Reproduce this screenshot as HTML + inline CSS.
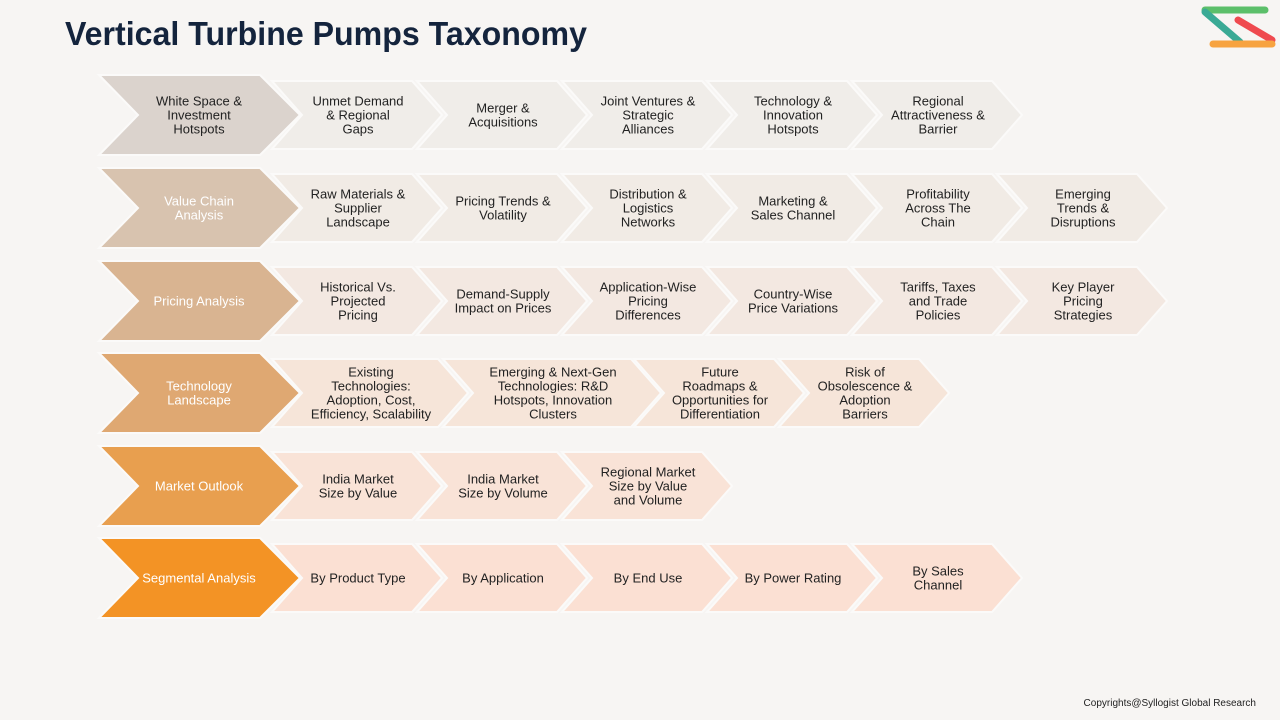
<!DOCTYPE html>
<html><head><meta charset="utf-8"><style>
html,body{margin:0;padding:0;background:#f7f5f3;}
svg{display:block;}
text{font-family:"Liberation Sans",Arial,sans-serif;}
</style></head><body>
<svg width="1280" height="720" viewBox="0 0 1280 720" xmlns="http://www.w3.org/2000/svg">
<rect width="1280" height="720" fill="#f7f5f3"/>
<text x="65" y="45" font-size="33" font-weight="bold" fill="#14243d" textLength="522" lengthAdjust="spacingAndGlyphs">Vertical Turbine Pumps Taxonomy</text>
<!-- logo -->
<g stroke-linecap="round" stroke-width="7" fill="none">
<line x1="1205" y1="10" x2="1265" y2="10" stroke="#5cbf6a"/>
<line x1="1205" y1="12" x2="1240" y2="42" stroke="#3aaa95"/>
<line x1="1238" y1="20" x2="1272" y2="40" stroke="#ef4a4f"/>
<line x1="1213" y1="44" x2="1272" y2="44" stroke="#f7a340"/>
</g>
<g font-size="13" fill="#222" text-anchor="middle" stroke="none" id="g"></g>
<text x="1256" y="706" font-size="10" fill="#222" text-anchor="end">Copyrights@Syllogist Global Research</text>
</svg>
<script>
var rows=[
 {top:75,main:"#dbd3cd",sub:"#f0ede9",tc:"#222",label:["White Space &","Investment","Hotspots"],
  subs:[[272,170,["Unmet Demand","& Regional","Gaps"]],[417,170,["Merger &","Acquisitions"]],[562,170,["Joint Ventures &","Strategic","Alliances"]],[707,170,["Technology &","Innovation","Hotspots"]],[852,170,["Regional","Attractiveness &","Barrier"]]]},
 {top:168,main:"#d8c3af",sub:"#f1ebe5",tc:"#fff",label:["Value Chain","Analysis"],
  subs:[[272,170,["Raw Materials &","Supplier","Landscape"]],[417,170,["Pricing Trends &","Volatility"]],[562,170,["Distribution &","Logistics","Networks"]],[707,170,["Marketing &","Sales Channel"]],[852,170,["Profitability","Across The","Chain"]],[997,170,["Emerging","Trends &","Disruptions"]]]},
 {top:261,main:"#d9b491",sub:"#f3e8e1",tc:"#fff",label:["Pricing Analysis"],
  subs:[[272,170,["Historical Vs.","Projected","Pricing"]],[417,170,["Demand-Supply","Impact on Prices"]],[562,170,["Application-Wise","Pricing","Differences"]],[707,170,["Country-Wise","Price Variations"]],[852,170,["Tariffs, Taxes","and Trade","Policies"]],[997,170,["Key Player","Pricing","Strategies"]]]},
 {top:353,main:"#dfa872",sub:"#f6e5d9",tc:"#fff",label:["Technology","Landscape"],
  subs:[[272,196,["Existing","Technologies:","Adoption, Cost,","Efficiency, Scalability"]],[443,218,["Emerging & Next-Gen","Technologies: R&D","Hotspots, Innovation","Clusters"]],[634,170,["Future","Roadmaps &","Opportunities for","Differentiation"]],[779,170,["Risk of","Obsolescence &","Adoption","Barriers"]]]},
 {top:446,main:"#e89f4f",sub:"#f9e3d7",tc:"#fff",label:["Market Outlook"],
  subs:[[272,170,["India Market","Size by Value"]],[417,170,["India Market","Size by Volume"]],[562,170,["Regional Market","Size by Value","and Volume"]]]},
 {top:538,main:"#f39325",sub:"#fbe0d3",tc:"#fff",label:["Segmental Analysis"],
  subs:[[272,170,["By Product Type"]],[417,170,["By Application"]],[562,170,["By End Use"]],[707,170,["By Power Rating"]],[852,170,["By Sales","Channel"]]]}
];
var NS="http://www.w3.org/2000/svg",g=document.getElementById("g");
function poly(pts,fill){var p=document.createElementNS(NS,"polygon");p.setAttribute("points",pts);p.setAttribute("fill",fill);p.setAttribute("stroke","#fbfaf9");p.setAttribute("stroke-width","2");g.appendChild(p);}
function txt(cx,cy,lines,col){var lh=14,y0=cy-(lines.length-1)*lh/2+4.5;lines.forEach(function(l,i){var t=document.createElementNS(NS,"text");t.setAttribute("x",cx);t.setAttribute("y",y0+i*lh);t.setAttribute("fill",col);t.textContent=l;g.appendChild(t);});}
rows.forEach(function(r){
 var st=r.top+6,h=68,d=30,cy=r.top+40;
 r.subs.slice().reverse().forEach(function(s){
  var x=s[0],w=s[1];
  poly([x,st,x+w-d,st,x+w,st+h/2,x+w-d,st+h,x,st+h,x+d,st+h/2].join(" "),r.sub);
 });
 r.subs.forEach(function(s){txt(s[0]+s[1]/2+1,cy,s[2],"#222");});
 var t=r.top;
 poly([99,t,260,t,300,t+40,260,t+80,99,t+80,138,t+40].join(" "),r.main);
 txt(199,cy,r.label,r.tc);
});
</script>
</body></html>
